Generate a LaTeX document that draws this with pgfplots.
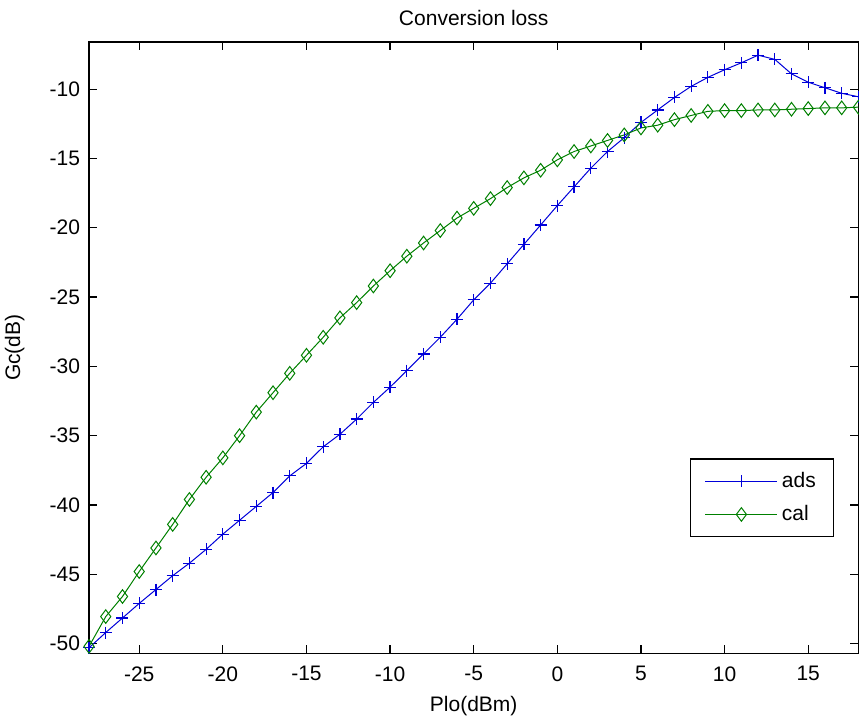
\documentclass[border=0pt]{standalone}
\usepackage{fontspec}
\setmainfont{Liberation Sans}
\usepackage{pgfplots}
\pgfplotsset{compat=1.18}
\usepackage{pgfplotstable}
\usetikzlibrary{calc}
\definecolor{adsblue}{rgb}{0,0,0.85}
\definecolor{calgreen}{rgb}{0,0.5,0}
\pgfplotstableread{
x y
-28 -50.3
-27 -49.2
-26 -48.15
-25 -47.1
-24 -46.1
-23 -45.1
-22 -44.2
-21 -43.2
-20 -42.1
-19 -41.1
-18 -40.1
-17 -39.1
-16 -37.9
-15 -37.0
-14 -35.8
-13 -34.9
-12 -33.8
-11 -32.6
-10 -31.5
-9 -30.3
-8 -29.1
-7 -27.9
-6 -26.6
-5 -25.2
-4 -24.0
-3 -22.6
-2 -21.2
-1 -19.8
0 -18.4
1 -17.05
2 -15.7
3 -14.5
4 -13.5
5 -12.4
6 -11.5
7 -10.6
8 -9.8
9 -9.15
10 -8.6
11 -8.1
12 -7.55
13 -7.85
14 -8.9
15 -9.5
16 -9.9
17 -10.3
18 -10.55
}\adsdata
\pgfplotstableread{
x y
-28 -50.2
-27 -48.05
-26 -46.6
-25 -44.8
-24 -43.1
-23 -41.4
-22 -39.6
-21 -38.0
-20 -36.6
-19 -35.0
-18 -33.3
-17 -31.9
-16 -30.5
-15 -29.2
-14 -27.9
-13 -26.5
-12 -25.4
-11 -24.2
-10 -23.1
-9 -22.05
-8 -21.1
-7 -20.2
-6 -19.3
-5 -18.6
-4 -17.9
-3 -17.1
-2 -16.4
-1 -15.85
0 -15.1
1 -14.5
2 -14.1
3 -13.7
4 -13.3
5 -12.8
6 -12.6
7 -12.2
8 -11.9
9 -11.6
10 -11.55
11 -11.55
12 -11.5
13 -11.5
14 -11.45
15 -11.4
16 -11.35
17 -11.35
18 -11.3
}\caldata
\begin{document}
\begin{tikzpicture}
\begin{axis}[
  scale only axis,
  width=384.5pt, height=305.5pt,
  xmin=-28, xmax=18, ymin=-50.7, ymax=-6.6,
  xtick={-25,-20,...,15},
  ytick={-50,-45,...,-10},
  tick align=inside,
  tick pos=both,
  tickwidth=4pt,
  axis line style={line width=0.6pt},
  every major tick/.append style={black, line width=0.6pt},
  font=\fontsize{10.5}{12}\selectfont,
  /pgf/number format/assume math mode=true,
  xticklabel style={yshift=-3pt},
  yticklabel style={xshift=-1pt},
  title={Conversion loss},
  title style={at={(axis description cs:0.5,1.0278)}, anchor=base, yshift=-6pt},
  xlabel={Plo(dBm)},
  xlabel style={at={(axis description cs:0.5,-0.0949)}, anchor=base},
  ylabel={Gc(dB)},
  ylabel style={at={(axis description cs:-0.0897,0.5)}, anchor=base, rotate=0},
  legend cell align=left,
  legend style={at={(axis description cs:0.9688,0.19)}, anchor=south east,
    draw=black, line width=0.6pt, inner xsep=7pt, inner ysep=4.5pt,
    row sep=3.5pt, font=\fontsize{10.5}{12}\selectfont},
  legend image code/.code={
    \draw[mark repeat=2,mark phase=2] plot coordinates {(0pt,0pt)(18pt,0pt)(36pt,0pt)};},
]
\addplot[color=adsblue, line width=0.5pt, mark=+, mark size=3pt, mark options={line width=0.6pt}] table[x=x,y=y] {\adsdata};
\addlegendentry{ads}
\addplot[color=calgreen, line width=0.5pt, mark=diamond, mark size=3.4pt, mark options={line width=0.5pt}] table[x=x,y=y] {\caldata};
\addlegendentry{cal}
\end{axis}
\pgfresetboundingbox
\path ($(current axis.south west)+(-44.5pt,-33pt)$) rectangle ($(current axis.north east)+(0.3pt,21pt)$);
\end{tikzpicture}
\end{document}
